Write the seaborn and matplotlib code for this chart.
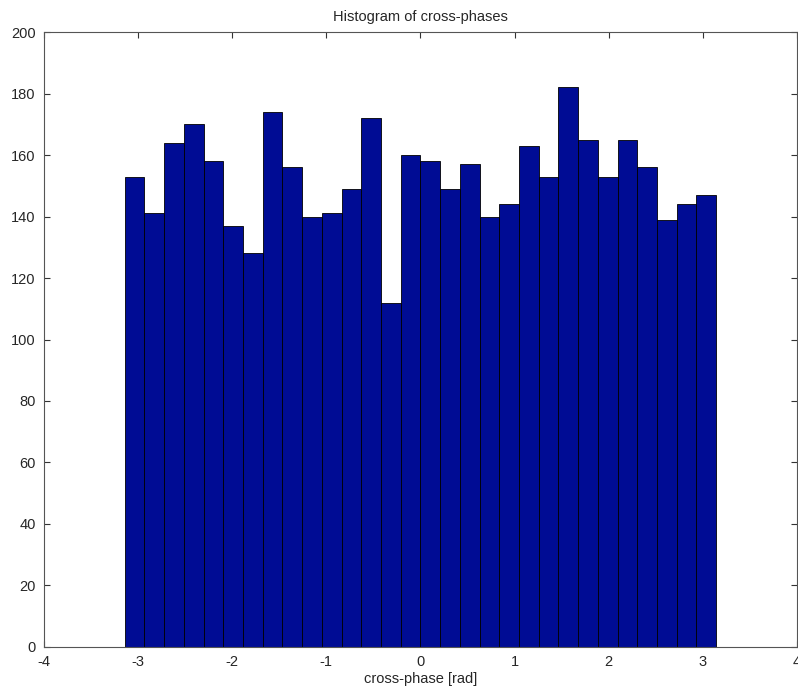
import numpy as np
import pandas as pd
import matplotlib
matplotlib.use("Agg")
import matplotlib.pyplot as plt
import seaborn as sns

# counts per bin, 30 equal bins over [-pi, pi]
counts = [153, 141, 164, 170, 158, 137, 128, 174, 156, 140,
          141, 149, 172, 112, 160, 158, 149, 157, 140, 144,
          163, 153, 182, 165, 153, 165, 156, 139, 144, 147]
n_bins = 30
x_ticks = [-4, -3, -2, -1, 0, 1, 2, 3, 4]
y_ticks = [0, 20, 40, 60, 80, 100, 120, 140, 160, 180, 200]

edges = np.linspace(-np.pi, np.pi, n_bins + 1)
df = pd.DataFrame({"phase": (edges[:-1] + edges[1:]) / 2, "count": counts})

sns.set_style("ticks")
plt.rcParams['font.family'] = ['Liberation Sans', 'DejaVu Sans']
plt.rcParams['axes.unicode_minus'] = False

fig = plt.figure(figsize=(7.98, 6.93), dpi=100)
ax = fig.add_axes([0.0551, 0.0664, 0.9436, 0.8874])

sns.histplot(data=df, x="phase", weights="count", bins=n_bins,
             binrange=(-np.pi, np.pi), ax=ax,
             color="#000c94", edgecolor="black", linewidth=0.6, alpha=1.0)

ax.set_xlim(-4, 4)
ax.set_ylim(0, 200)
ax.set_xticks(x_ticks)
ax.set_yticks(y_ticks)
ax.tick_params(direction="in", top=True, right=True, length=4,
               labelsize=10.5, color="#333333", pad=6)
for s in ax.spines.values():
    s.set_visible(True)
    s.set_color("#555555")
    s.set_linewidth(0.8)
ax.set_xlabel("cross-phase [rad]", fontsize=10.5, labelpad=2)
ax.set_ylabel("")
ax.set_title("Histogram of cross-phases", fontsize=10.5, pad=8)

fig.savefig("out.png", dpi=100)
